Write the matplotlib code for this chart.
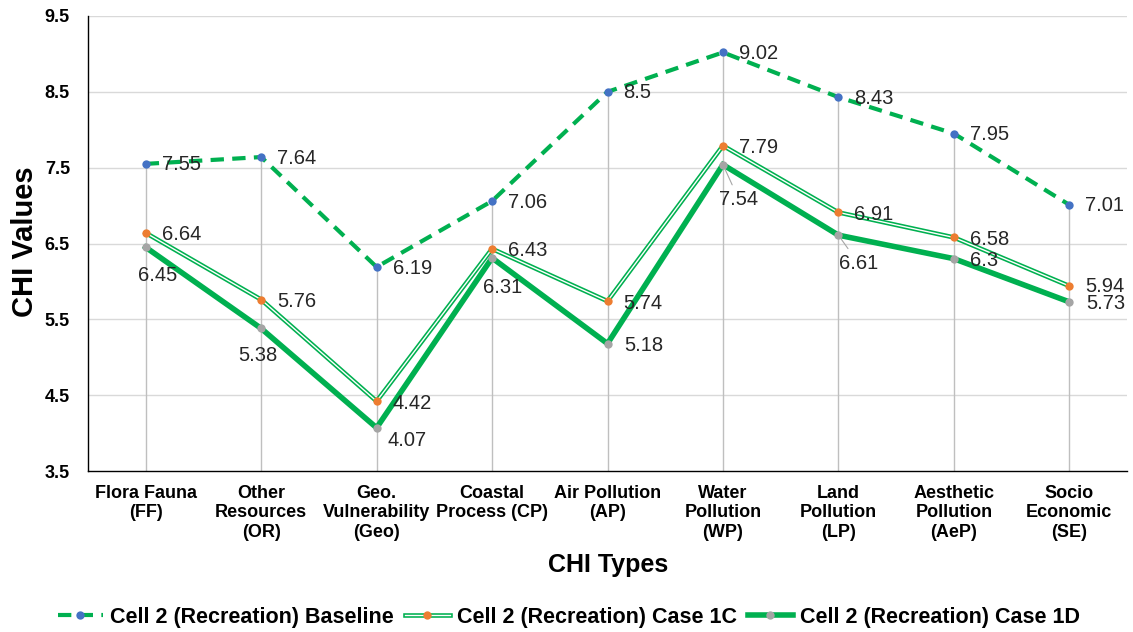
import matplotlib
matplotlib.use("Agg")
import matplotlib.pyplot as plt
from matplotlib.lines import Line2D

plt.rcParams['font.family'] = ['Liberation Sans', 'DejaVu Sans']

categories = ["Flora Fauna\n(FF)", "Other\nResources\n(OR)", "Geo.\nVulnerability\n(Geo)",
              "Coastal\nProcess (CP)", "Air Pollution\n(AP)", "Water\nPollution\n(WP)",
              "Land\nPollution\n(LP)", "Aesthetic\nPollution\n(AeP)", "Socio\nEconomic\n(SE)"]
baseline = [7.55, 7.64, 6.19, 7.06, 8.5, 9.02, 8.43, 7.95, 7.01]
case_1c = [6.64, 5.76, 4.42, 6.43, 5.74, 7.79, 6.91, 6.58, 5.94]
case_1d = [6.45, 5.38, 4.07, 6.31, 5.18, 7.54, 6.61, 6.3, 5.73]
series_names = ["Cell 2 (Recreation) Baseline", "Cell 2 (Recreation) Case 1C",
                "Cell 2 (Recreation) Case 1D"]
yticks = [3.5, 4.5, 5.5, 6.5, 7.5, 8.5, 9.5]

GREEN = '#00B050'
BLUE = '#4472C4'
ORANGE = '#ED7D31'
GRAY = '#A5A5A5'
LABEL_COLOR = '#262626'

fig = plt.figure(figsize=(11.33, 6.32), dpi=100)
ax = fig.add_axes([88 / 1133, 1 - 471 / 632, (1127 - 88) / 1133, (471 - 16) / 632])

x = list(range(len(categories)))

# grid
for yv in yticks[1:]:
    ax.axhline(yv, color='#D9D9D9', lw=1.0, zorder=0)

# drop lines
tops = [max(a, b, c) for a, b, c in zip(baseline, case_1c, case_1d)]
ax.vlines(x, yticks[0], tops, color='#BFBFBF', lw=1.0, zorder=1)

# Case 1D
l1d, = ax.plot(x, case_1d, color=GREEN, lw=4.0, solid_joinstyle='miter', zorder=3)
m1d, = ax.plot(x, case_1d, ls='none', marker='o', ms=6, color=GRAY, mec='none', zorder=6)

# Case 1C (double line)
l1c_o, = ax.plot(x, case_1c, color=GREEN, lw=3.3, zorder=4)
l1c_i, = ax.plot(x, case_1c, color='white', lw=1.0, zorder=4.5)
m1c, = ax.plot(x, case_1c, ls='none', marker='o', ms=6, color=ORANGE, mec='none', zorder=6)

# Baseline dashed
lb, = ax.plot(x, baseline, color=GREEN, lw=3.0, dashes=(3.2, 2.0), dash_capstyle='butt', zorder=5)
mb, = ax.plot(x, baseline, ls='none', marker='o', ms=6, color=BLUE, mec='none', zorder=6)

px = 0.72  # points per pixel
fs = 14.5

for xi, v in zip(x, baseline):
    ax.annotate(f"{v:g}", (xi, v), xytext=(16 * px, -1 * px), textcoords='offset points',
                ha='left', va='center', fontsize=fs, color=LABEL_COLOR, zorder=8)
c_dy = [-2, -2, -2, -2, -2, -2, -2, -2, -1]
for xi, v, dy in zip(x, case_1c, c_dy):
    ax.annotate(f"{v:g}", (xi, v), xytext=(16 * px, dy * px), textcoords='offset points',
                ha='left', va='center', fontsize=fs, color=LABEL_COLOR, zorder=8)

# Case 1D label offsets (pixels, center of label)
d_offsets = [(12, -28, 'center'), (-3, -27, 'center'), (30, -13, 'center'),
             (11, -30, 'center'), (17, -2, 'left'), (16, -35, 'center'),
             (20, -28, 'center'), (16, -2, 'left'), (17, -2, 'left')]
leader = [False, False, False, False, False, True, True, False, False]
for xi, v, (dx, dy, ha), ld in zip(x, case_1d, d_offsets, leader):
    kw = {}
    if ld:
        kw['arrowprops'] = dict(arrowstyle='-', color='#A6A6A6', lw=0.8, shrinkA=2, shrinkB=3)
    ax.annotate(f"{v:g}", (xi, v), xytext=(dx * px, dy * px), textcoords='offset points',
                ha=ha, va='center', fontsize=fs, color=LABEL_COLOR, zorder=8, **kw)

ax.set_xlim(-0.5, len(categories) - 0.5)
ax.set_ylim(yticks[0], yticks[-1])
ax.set_yticks(yticks)
ax.set_yticklabels([f"{t}" for t in yticks], fontsize=13, fontweight='bold')
ax.set_xticks(x)
ax.set_xticklabels(categories, fontsize=13, fontweight='bold', linespacing=1.2)
ax.tick_params(axis='y', length=0, pad=13)
ax.tick_params(axis='x', length=0, pad=10)

for s in ['top', 'right']:
    ax.spines[s].set_visible(False)
for s in ['left', 'bottom']:
    ax.spines[s].set_color('black')
    ax.spines[s].set_linewidth(1.0)
    ax.spines[s].set_zorder(2)

fig.text(25 / 1133, 1 - 242 / 632, "CHI Values", rotation=90, ha='center', va='center',
         fontsize=21, fontweight='bold')
fig.text(608 / 1133, 1 - 565 / 632, "CHI Types", ha='center', va='center',
         fontsize=18, fontweight='bold')

h_b = (Line2D([], [], color=GREEN, lw=3.0, dashes=(3.2, 2.0)),
       Line2D([], [], ls='none', marker='o', ms=6, color=BLUE, mec='none'))
h_c = (Line2D([], [], color=GREEN, lw=3.3), Line2D([], [], color='white', lw=1.0),
       Line2D([], [], ls='none', marker='o', ms=6, color=ORANGE, mec='none'))
h_d = (Line2D([], [], color=GREEN, lw=4.0),
       Line2D([], [], ls='none', marker='o', ms=6, color=GRAY, mec='none'))
fig.legend([h_b, h_c, h_d], series_names, loc='center', bbox_to_anchor=(569 / 1133, 1 - 617 / 632),
           ncol=3, frameon=False, prop={'size': 15.5, 'weight': 'bold'},
           handlelength=2.1, handletextpad=0.33, columnspacing=0.5, borderpad=0)

fig.savefig("out.png", dpi=100)
